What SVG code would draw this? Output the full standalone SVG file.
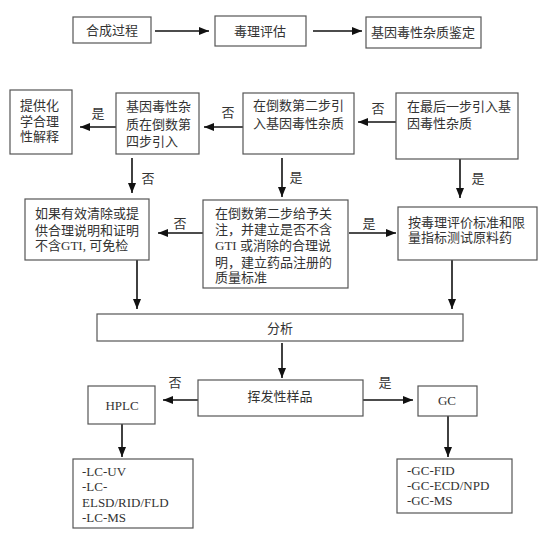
<svg xmlns="http://www.w3.org/2000/svg" width="551" height="544" viewBox="0 0 551 544">
<defs>
<marker id="ah" markerUnits="userSpaceOnUse" markerWidth="10" markerHeight="8" refX="10" refY="4" orient="auto">
<path d="M0,0 L10,4 L0,8 Z" fill="#111"/>
</marker>
<style>
.box{fill:#fff;stroke:#555;stroke-width:1.2}
.t{font-family:"Liberation Serif","Noto Sans CJK SC",serif;font-size:13px;fill:#333}
.c{text-anchor:middle}
.lbl{font-family:"Liberation Serif","Noto Sans CJK SC",serif;font-size:13px;fill:#333;text-anchor:middle}
.ar{stroke:#111;stroke-width:1.6;fill:none;marker-end:url(#ah)}
</style>
</defs>
<rect width="551" height="544" fill="#fff"/>
<g id="connectors">
<line class="ar" x1="155" y1="31" x2="209" y2="31"/>
<line class="ar" x1="313" y1="31" x2="362" y2="31"/>
<line class="ar" x1="396" y1="122" x2="358" y2="122"/>
<line class="ar" x1="243" y1="127" x2="204" y2="127"/>
<line class="ar" x1="116" y1="127" x2="80" y2="127"/>
<line class="ar" x1="132" y1="158" x2="132" y2="193"/>
<line class="ar" x1="282" y1="158" x2="282" y2="197"/>
<line class="ar" x1="460" y1="159" x2="460" y2="198"/>
<line class="ar" x1="203" y1="233" x2="158" y2="233"/>
<line class="ar" x1="349" y1="233" x2="396" y2="233"/>
<line class="ar" x1="137" y1="260" x2="137" y2="309"/>
<line class="ar" x1="452" y1="260" x2="452" y2="309"/>
<line class="ar" x1="282" y1="343" x2="282" y2="378"/>
<line class="ar" x1="198" y1="400" x2="163" y2="400"/>
<line class="ar" x1="363" y1="400" x2="413" y2="400"/>
<line class="ar" x1="122" y1="424" x2="122" y2="457"/>
<line class="ar" x1="448" y1="416" x2="448" y2="457"/>
<text class="lbl" x="378" y="113">否</text>
<text class="lbl" x="228" y="117">否</text>
<text class="lbl" x="98" y="118">是</text>
<text class="lbl" x="148" y="183">否</text>
<text class="lbl" x="296" y="182">是</text>
<text class="lbl" x="478" y="183">是</text>
<text class="lbl" x="180" y="228">否</text>
<text class="lbl" x="369" y="228">是</text>
<text class="lbl" x="175" y="387">否</text>
<text class="lbl" x="385" y="387">是</text>
</g>
<g id="n1"><rect class="box" x="73" y="17" width="78" height="26"/><text class="t c" x="112" y="35">合成过程</text></g>
<g id="n2"><rect class="box" x="215" y="16" width="91" height="30"/><text class="t c" x="260" y="36">毒理评估</text></g>
<g id="n3"><rect class="box" x="366" y="17" width="115" height="31"/><text class="t c" x="423" y="37">基因毒性杂质鉴定</text></g>
<g id="n4"><rect class="box" x="10" y="90" width="62" height="64"/>
<text class="t" x="20" y="110">提供化</text><text class="t" x="20" y="126">学合理</text><text class="t" x="20" y="141">性解释</text></g>
<g id="n5"><rect class="box" x="116" y="93" width="83" height="61"/>
<text class="t" x="126" y="111">基因毒性杂</text><text class="t" x="126" y="129">质在倒数第</text><text class="t" x="126" y="146">四步引入</text></g>
<g id="n6"><rect class="box" x="243" y="93" width="111" height="61"/>
<text class="t" x="253" y="110">在倒数第二步引</text><text class="t" x="253" y="128">入基因毒性杂质</text></g>
<g id="n7"><rect class="box" x="396" y="93" width="122" height="66"/>
<text class="t" x="407" y="111">在最后一步引入基</text><text class="t" x="407" y="128">因毒性杂质</text></g>
<g id="n8"><rect class="box" x="25" y="199" width="124" height="61"/>
<text class="t" x="35" y="218">如果有效清除或提</text><text class="t" x="35" y="235">供合理说明和证明</text><text class="t" x="35" y="250">不含GTI, 可免检</text></g>
<g id="n9"><rect class="box" x="203" y="200" width="145" height="88"/>
<text class="t" x="215" y="218">在倒数第二步给予关</text><text class="t" x="215" y="234">注，并建立是否不含</text><text class="t" x="215" y="250">GTI 或消除的合理说</text><text class="t" x="215" y="267">明，建立药品注册的</text><text class="t" x="215" y="282">质量标准</text></g>
<g id="n10"><rect class="box" x="398" y="207" width="139" height="53"/>
<text class="t" x="408" y="227">按毒理评价标准和限</text><text class="t" x="408" y="242">量指标测试原料药</text></g>
<g id="n11"><rect class="box" x="97" y="314" width="366" height="27"/><text class="t c" x="280" y="333">分析</text></g>
<g id="n12"><rect class="box" x="198" y="380" width="165" height="36"/><text class="t c" x="280" y="401">挥发性样品</text></g>
<g id="n13"><rect class="box" x="88" y="386" width="67" height="38"/><text class="t c" x="122" y="410">HPLC</text></g>
<g id="n14"><rect class="box" x="418" y="386" width="59" height="30"/><text class="t c" x="447" y="405">GC</text></g>
<g id="n15"><rect class="box" x="73" y="459" width="120" height="69"/>
<text class="t" x="82" y="476">-LC-UV</text><text class="t" x="82" y="491">-LC-</text><text class="t" x="82" y="507">ELSD/RID/FLD</text><text class="t" x="82" y="522">-LC-MS</text></g>
<g id="n16"><rect class="box" x="397" y="459" width="115" height="54"/>
<text class="t" x="407" y="475">-GC-FID</text><text class="t" x="407" y="490">-GC-ECD/NPD</text><text class="t" x="407" y="505">-GC-MS</text></g>
</svg>
